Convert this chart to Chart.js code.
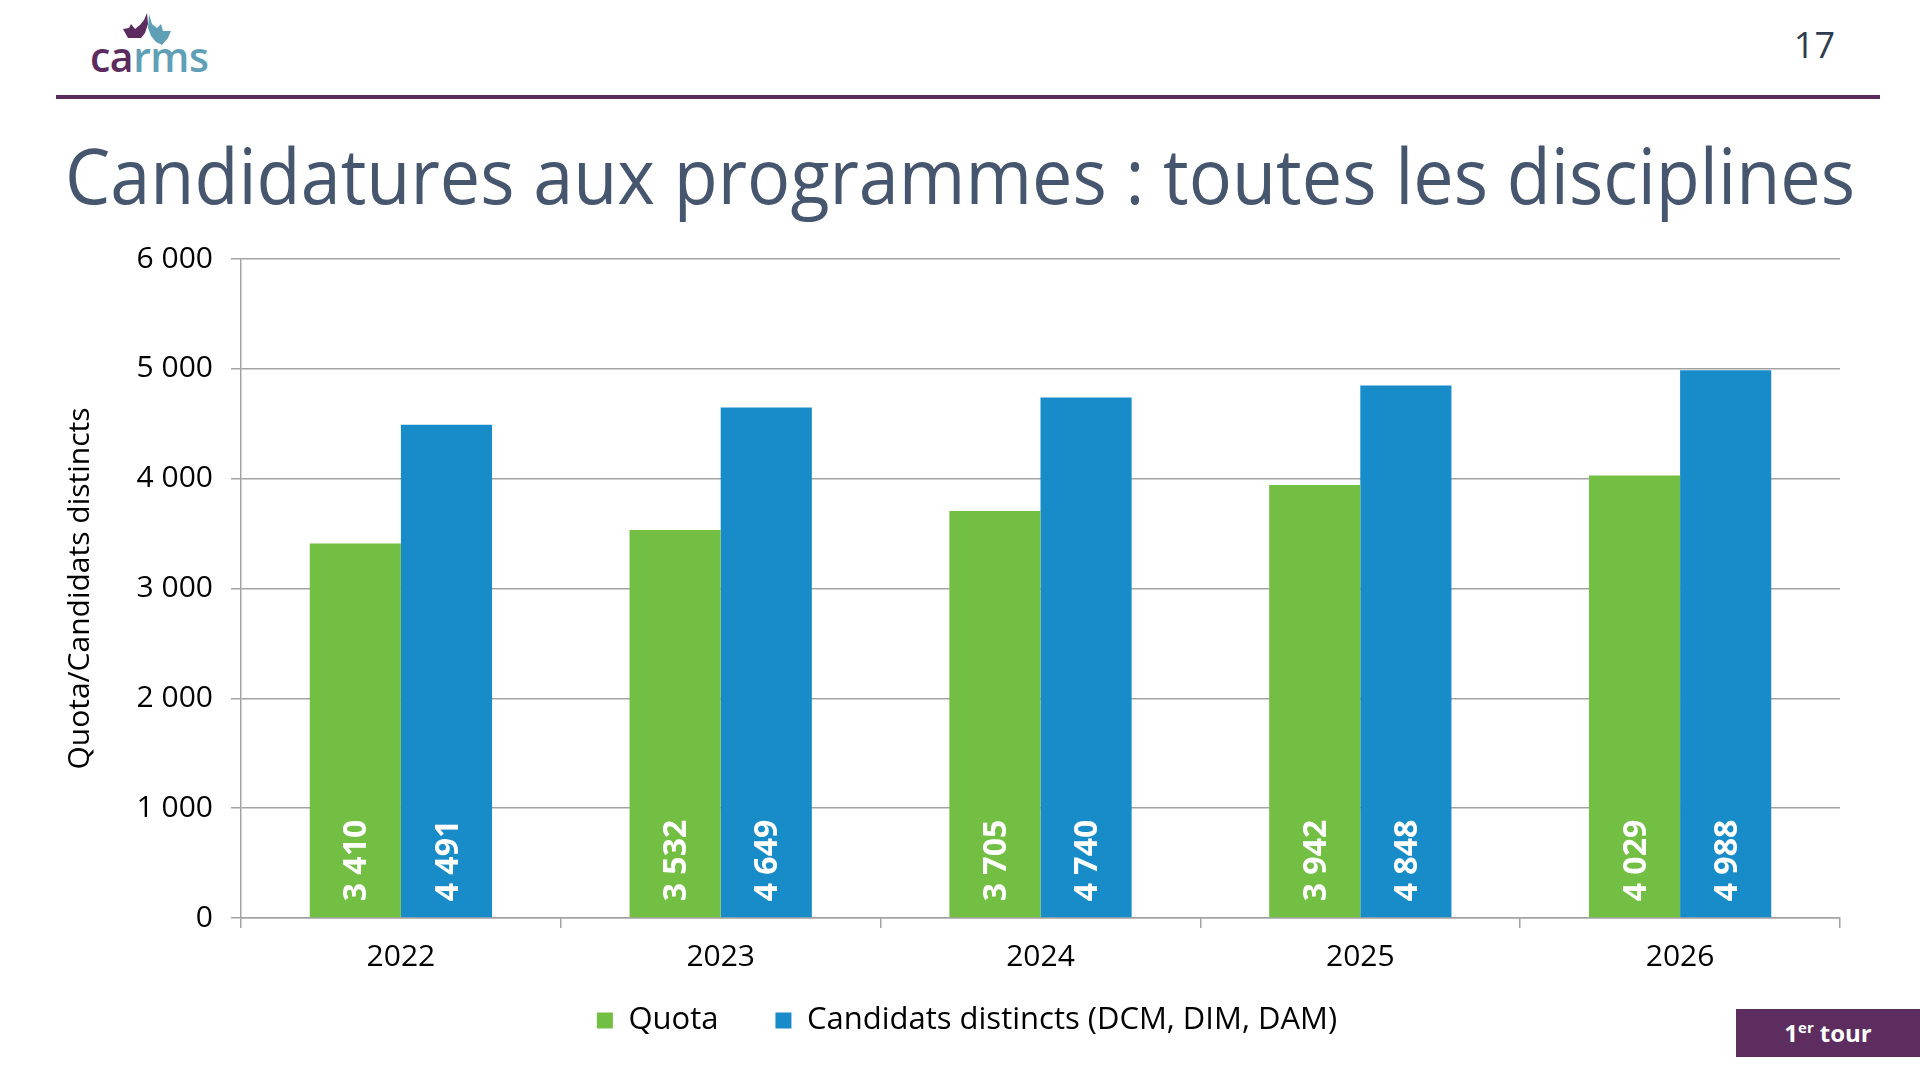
<!DOCTYPE html>
<html lang="fr">
<head>
<meta charset="utf-8">
<title>Candidatures aux programmes : toutes les disciplines</title>
<script src="https://cdn.jsdelivr.net/npm/chart.js@4/dist/chart.umd.min.js"></script>
<style>
  html, body { margin: 0; padding: 0; background: #fff; }
  body { width: 1920px; height: 1080px; position: relative; overflow: hidden; font-family: 'Open Sans', sans-serif; }
  .logo-text { position: absolute; left: 90px; top: 36px; font-size: 41px; line-height: 41px; font-weight: 600; letter-spacing: -0.5px; }
  .logo-text .a { color: #5b2c5d; }
  .logo-text .b { color: #5fa0b6; }
  #logoIcon { position: absolute; left: 0; top: 0; }
  .rule { position: absolute; left: 56px; top: 95px; width: 1824px; height: 4px; background: #5b2c5d; }
  .page { position: absolute; right: 85px; top: 27px; font-size: 36px; line-height: 36px; color: #2f3b4f; }
  #title { position: absolute; left: 65px; top: 137px; font-size: 76px; line-height: 76px; color: #46566e; white-space: nowrap; transform-origin: 0 0; }
  #chartBox { position: absolute; left: 0; top: 223px; width: 1920px; height: 850px; }
  .badge { position: absolute; left: 1736px; top: 1009px; width: 184px; height: 48px; background: #5d2d5f; color: #fff;
           font-weight: 700; font-size: 24px; line-height: 48px; text-align: center; }
  .badge sup { font-size: 15px; line-height: 0; vertical-align: 9px; margin-right: 6px; }
</style>
</head>
<body>
<svg id="logoIcon" width="200" height="60">
  <path d="M123,29 L129,28 L131,24 L135,29 L140,25 L144,20 L147,13 L148,24 L145,33 L141,38 L128,38 Z" fill="#5b2c5d"/>
  <path d="M149,14 L152,24 L157,28 L161,24 L163,31 L171,31 L168,38 L162,45 L156,42 L151,36 L148,28 Z" fill="#5fa0b6"/>
</svg>
<div class="logo-text"><span class="a">ca</span><span class="b">rms</span></div>
<div class="rule"></div>
<div class="page">17</div>
<div id="title">Candidatures aux programmes : toutes les disciplines</div>
<div id="chartBox"><canvas id="chart1"></canvas></div>
<div class="badge">1<sup>er</sup>tour</div>

<script>
const years = ['2022', '2023', '2024', '2025', '2026'];
const quota = [3410, 3532, 3705, 3942, 4029];
const candidats = [4491, 4649, 4740, 4848, 4988];
const seriesNames = ['Quota', 'Candidats distincts (DCM, DIM, DAM)'];
const yTicks = [0, 1000, 2000, 3000, 4000, 5000, 6000];

const fmtNum = (v) => String(v).replace(/\B(?=(\d{3})+(?!\d))/g, '\u00a0');

// fit the title to the width it takes in the slide
const t = document.getElementById('title');
const tw = t.getBoundingClientRect().width;
if (tw > 0) t.style.transform = `scaleX(${Math.min(1, 1790 / tw)})`;

Chart.defaults.font.family = "'Open Sans', sans-serif";
Chart.defaults.color = '#000';

const legendPad = 57;   // wide gap between the two legend items
const legendLift = 27;  // pull the legend back up, padding also applies vertically

const barLabels = {
  id: 'barLabels',
  afterLayout(chart) {
    if (chart.legend) { chart.legend.top -= legendLift; chart.legend.bottom -= legendLift; }
  },
  afterDatasetsDraw(chart) {
    const ctx = chart.ctx;
    ctx.save();
    ctx.fillStyle = '#fff';
    ctx.font = "bold 32px 'Open Sans', sans-serif";
    ctx.textAlign = 'left';
    ctx.textBaseline = 'middle';
    chart.data.datasets.forEach((ds, i) => {
      chart.getDatasetMeta(i).data.forEach((bar, j) => {
        ctx.save();
        ctx.translate(bar.x + 2, bar.base - 16);
        ctx.rotate(-Math.PI / 2);
        ctx.fillText(fmtNum(ds.data[j]), 0, 0);
        ctx.restore();
      });
    });
    ctx.restore();
  }
};

const gridCol = '#a3a3a3';

new Chart(document.getElementById('chart1').getContext('2d'), {
  type: 'bar',
  data: {
    labels: years,
    datasets: [
      { label: seriesNames[0], data: quota, backgroundColor: '#72bf44', borderWidth: 0 },
      { label: seriesNames[1], data: candidats, backgroundColor: '#188bc9', borderWidth: 0 }
    ]
  },
  options: {
    responsive: true,
    maintainAspectRatio: false,
    animation: false,
    layout: { padding: { left: 94, right: 80, top: 27, bottom: 0 } },
    datasets: { bar: { categoryPercentage: 0.57, barPercentage: 1.0 } },
    plugins: {
      tooltip: { enabled: false },
      legend: {
        position: 'bottom',
        labels: { boxWidth: 16, boxHeight: 16, padding: legendPad, font: { size: 31 }, color: '#000' }
      }
    },
    scales: {
      x: {
        afterFit(s) { s.height = 57; },
        grid: { display: true, drawOnChartArea: false, offset: true, tickLength: 10, color: gridCol, lineWidth: 1.5 },
        border: { display: true, color: gridCol, width: 1.5 },
        ticks: { font: { size: 30 }, padding: 11, color: '#000' }
      },
      y: {
        min: 0,
        max: 6000,
        afterFit(s) { s.width = 147; },
        afterBuildTicks(s) { s.ticks = yTicks.map(v => ({ value: v })); },
        grid: { color: gridCol, lineWidth: 1.5, tickLength: 10 },
        border: { display: true, color: gridCol, width: 1.5 },
        ticks: { font: { size: 30 }, padding: 18, color: '#000', callback: (v) => fmtNum(v) },
        title: { display: true, text: 'Quota/Candidats distincts', font: { size: 30 }, color: '#000', padding: { top: -32, bottom: 0 } }
      }
    }
  },
  plugins: [barLabels]
});
</script>
</body>
</html>
